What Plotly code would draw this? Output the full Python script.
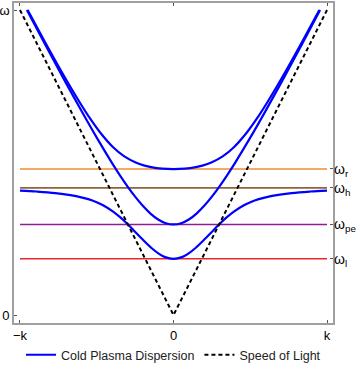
import plotly.graph_objects as go

# Upper X-mode branch (k, omega)
k_upper = [-0.950, -0.8425, -0.7317, -0.6145, -0.5510, -0.4803, -0.3933, -0.3203, -0.2463, -0.1883, -0.1456, -0.0741, 0.0,
           0.0741, 0.1456, 0.1883, 0.2463, 0.3203, 0.3933, 0.4803, 0.5510, 0.6145, 0.7317, 0.8425, 0.950]
w_upper = [1.0, 0.9, 0.8, 0.7, 0.65, 0.6, 0.55, 0.52, 0.5, 0.49, 0.485, 0.48, 0.4784,
           0.48, 0.485, 0.49, 0.5, 0.52, 0.55, 0.6, 0.65, 0.7, 0.8, 0.9, 1.0]

# O-mode branch
k_omode = [-0.955, -0.9, -0.8, -0.7, -0.6, -0.5, -0.4, -0.35, -0.3, -0.25, -0.2, -0.15, -0.1, -0.05, 0.0,
           0.05, 0.1, 0.15, 0.2, 0.25, 0.3, 0.35, 0.4, 0.5, 0.6, 0.7, 0.8, 0.9, 0.955]
w_omode = [1.0, 0.9477, 0.8534, 0.7604, 0.6695, 0.5815, 0.4982, 0.4590, 0.4221, 0.3882, 0.3581, 0.3327, 0.3134, 0.3012, 0.297,
           0.3012, 0.3134, 0.3327, 0.3581, 0.3882, 0.4221, 0.4590, 0.4982, 0.5815, 0.6695, 0.7604, 0.8534, 0.9477, 1.0]

# Lower X-mode branch
k_lower = [-1.0, -0.8912, -0.7699, -0.6342, -0.5553, -0.5007, -0.4590, -0.3956, -0.3460, -0.3031, -0.2635, -0.2056, -0.1435, -0.0918, -0.0541, 0.0,
           0.0541, 0.0918, 0.1435, 0.2056, 0.2635, 0.3031, 0.3460, 0.3956, 0.4590, 0.5007, 0.5553, 0.6342, 0.7699, 0.8912, 1.0]
w_lower = [0.4078, 0.405, 0.40, 0.39, 0.38, 0.37, 0.36, 0.34, 0.32, 0.30, 0.28, 0.25, 0.22, 0.20, 0.19, 0.1844,
           0.19, 0.20, 0.22, 0.25, 0.28, 0.30, 0.32, 0.34, 0.36, 0.37, 0.38, 0.39, 0.40, 0.405, 0.4078]

# Speed of light line
k_light = [-1.0, 0.0, 1.0]
w_light = [1.0, 0.0, 1.0]

# Characteristic frequencies
freq_names = ["ω<sub>r</sub>", "ω<sub>h</sub>", "ω<sub>pe</sub>", "ω<sub>l</sub>"]
freq_values = [0.479, 0.417, 0.297, 0.1844]
freq_colors = ["#F08C30", "#8F6538", "#8E1C92", "#E8262A"]

x_ticks = [-1, 0, 1]
x_labels = ["−k", "0", "k"]
y_ticks = [0, 1]
y_labels = ["0", "ω"]

FONT = "Liberation Sans, Arial, sans-serif"

fig = go.Figure()

for name, val, col in zip(freq_names, freq_values, freq_colors):
    fig.add_trace(go.Scatter(x=[-1, 1], y=[val, val], mode="lines",
                             line=dict(color=col, width=1.6), showlegend=False, hoverinfo="skip"))

blue = dict(color="#0000FF", width=2.2, shape="spline")
fig.add_trace(go.Scatter(x=k_upper, y=w_upper, mode="lines", line=blue,
                         name="Cold Plasma Dispersion", legendgroup="cpd", showlegend=True))
fig.add_trace(go.Scatter(x=k_omode, y=w_omode, mode="lines", line=blue,
                         legendgroup="cpd", showlegend=False))
fig.add_trace(go.Scatter(x=k_lower, y=w_lower, mode="lines", line=blue,
                         legendgroup="cpd", showlegend=False))
fig.add_trace(go.Scatter(x=k_light, y=w_light, mode="lines",
                         line=dict(color="black", width=2, dash="4px,3px"),
                         name="Speed of Light"))
# invisible trace to activate right axis
fig.add_trace(go.Scatter(x=[0], y=[0], yaxis="y2", mode="markers",
                         marker=dict(opacity=0), showlegend=False, hoverinfo="skip"))

yr = [-0.026, 1.023]
fig.update_layout(
    width=360, height=375, autosize=False,
    margin=dict(l=14, r=27, t=3, b=52, autoexpand=False),
    plot_bgcolor="white", paper_bgcolor="white",
    font=dict(family=FONT, size=13, color="black"),
    xaxis=dict(range=[-1.039, 1.039], tickvals=x_ticks, ticktext=x_labels,
               showgrid=False, zeroline=False, showline=True, mirror="ticks",
               linecolor="#A0A0A0", linewidth=1.6, ticks="inside", ticklen=3,
               tickcolor="#555555", tickfont=dict(size=13), automargin=False),
    yaxis=dict(range=yr, tickvals=y_ticks, ticktext=y_labels,
               showgrid=False, zeroline=False, showline=True, mirror=True,
               linecolor="#A0A0A0", linewidth=1.6, ticks="inside", ticklen=3,
               tickcolor="#555555", tickfont=dict(size=13), automargin=False),
    yaxis2=dict(range=yr, overlaying="y", side="right", tickvals=freq_values,
                ticktext=freq_names, showgrid=False, zeroline=False, showline=False,
                ticks="inside", ticklen=3, tickcolor="#555555", tickfont=dict(size=14),
                automargin=False),
    legend=dict(orientation="h", x=0.5, xanchor="center", y=0.053, yanchor="middle",
                yref="container", font=dict(size=12.5, color="#222222"),
                bgcolor="rgba(0,0,0,0)"),
)

fig.write_html("out.html", config={"displayModeBar": False},
               post_script="document.body.style.margin='0';document.body.style.overflow='hidden';")
